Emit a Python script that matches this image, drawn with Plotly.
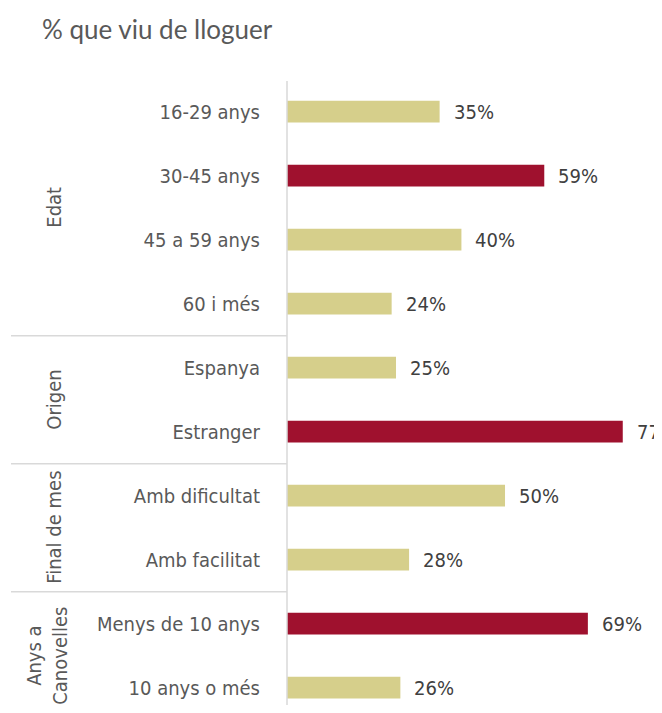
import plotly.graph_objects as go

# data
categories = ["16-29 anys", "30-45 anys", "45 a 59 anys", "60 i més",
              "Espanya", "Estranger",
              "Amb dificultat", "Amb facilitat",
              "Menys de 10 anys", "10 anys o més"]
values = [35, 59, 40, 24, 25, 77, 50, 28, 69, 26]
highlight = [False, True, False, False, False, True, False, False, True, False]
groups = ["Edat", "Origen", "Final de mes", "Anys a<br>Canovelles"]
group_sizes = [4, 2, 2, 2]

TAN = "#d6cf8b"
RED = "#9f112e"
GREY = "#595959"
LINE = "#d9d9d9"
FONT = "DejaVu Sans Condensed"

# the page body has an 8px margin, so the figure sits at (8, 8)
W, H = 654, 697
L, T = 279, 73
PW = W - L
ROW = 64  # px per category row

ypos = list(range(len(categories)))
colors = [RED if h else TAN for h in highlight]

fig = go.Figure()
fig.add_trace(go.Bar(
    x=values, y=ypos, orientation="h",
    marker=dict(color=colors, line=dict(width=0)),
    width=0.34,
    hoverinfo="skip",
))

# value labels
for v, y in zip(values, ypos):
    fig.add_annotation(x=v, y=y, text=f"{v}%", showarrow=False,
                       xanchor="left", xshift=12,
                       font=dict(size=20, color="#404040", family=FONT))

# group labels and separators
x_left = (3 - L) / PW
start = 0
for g, n in zip(groups, group_sizes):
    mid = start + (n - 1) / 2
    gx = 12 if "<br>" in g else 32
    fig.add_annotation(x=(gx - L) / PW, y=mid, xref="paper", yref="y",
                       text=g, textangle=-90, showarrow=False,
                       font=dict(size=20, color=GREY, family=FONT))
    fig.add_shape(type="line", xref="paper", yref="y",
                  x0=x_left, x1=0, y0=start - 0.5, y1=start - 0.5,
                  line=dict(color=LINE, width=1.5))
    start += n

fig.add_shape(type="line", xref="paper", yref="paper",
              x0=0, x1=0, y0=0, y1=1, line=dict(color=LINE, width=1.5))

top = -0.48
bottom = top + (H - T) / ROW

fig.update_layout(
    width=W, height=H,
    margin=dict(l=L, r=0, t=T, b=0),
    paper_bgcolor="white", plot_bgcolor="white",
    showlegend=False,
    title=dict(text="% que viu de lloguer", x=34 / W, xanchor="left",
               y=1 - 22 / H, yanchor="middle",
               font=dict(size=26, color=GREY, family="Lato")),
    xaxis=dict(range=[0, 86], visible=False, fixedrange=True),
    yaxis=dict(range=[bottom, top], tickvals=ypos, ticktext=categories,
               showgrid=False, zeroline=False, showline=False,
               ticks="", ticklabelstandoff=26,
               tickfont=dict(size=20, color=GREY, family=FONT)),
)

fig.write_html("out.html")
